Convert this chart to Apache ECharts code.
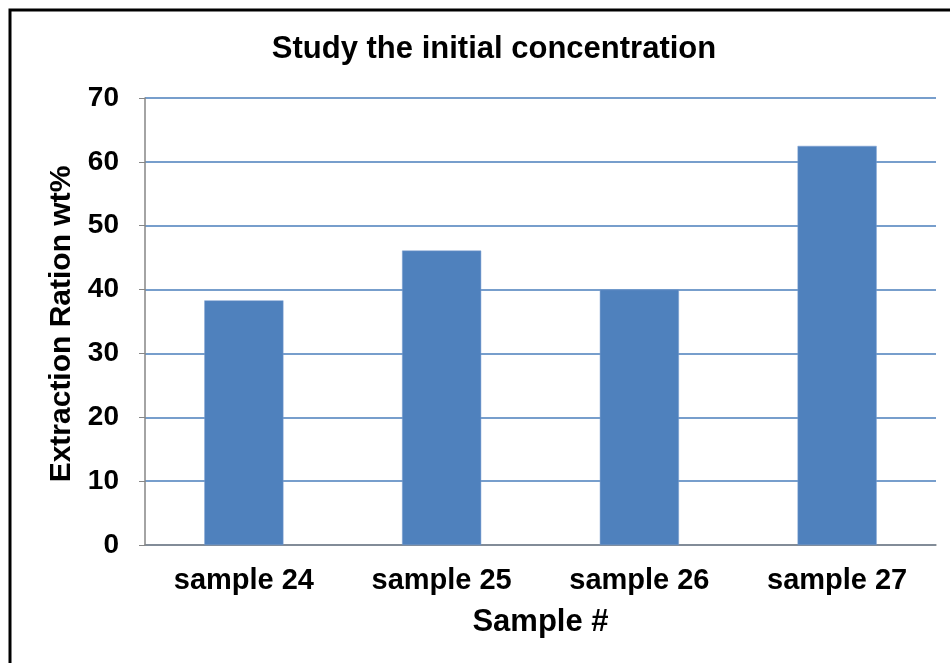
<!DOCTYPE html>
<html>
<head>
<meta charset="utf-8">
<script src="https://cdn.jsdelivr.net/npm/echarts@6/dist/echarts.min.js"></script>
<style>
  html, body { margin: 0; padding: 0; background: #fff; }
  #chart { width: 950px; height: 663px; }
</style>
</head>
<body>
<div id="chart"></div>
<script>
// Extraction ratio per sample
const categories = ['sample 24', 'sample 25', 'sample 26', 'sample 27'];
const extraction = [38.3, 46.1, 40.0, 62.5];
const yTicks = [0, 10, 20, 30, 40, 50, 60, 70];

const FONT = 'Liberation Sans, Arial, sans-serif';
const chart = echarts.init(document.getElementById('chart'), null, { renderer: 'canvas' });

chart.setOption({
  backgroundColor: '#ffffff',
  animation: false,
  title: {
    text: 'Study the initial concentration',
    left: 489,
    textAlign: 'center',
    top: 29,
    textStyle: { fontFamily: FONT, fontSize: 31, fontWeight: 'bold', color: '#000' }
  },
  graphic: [
    {
      type: 'rect',
      shape: { x: 10, y: 10, width: 980, height: 700 },
      style: { fill: 'none', stroke: '#000', lineWidth: 3 },
      silent: true
    },
    {
      type: 'text',
      x: 62,
      y: 324,
      rotation: Math.PI / 2,
      style: {
        text: 'Extraction Ration wt%',
        font: 'bold 30px ' + FONT,
        fill: '#000',
        align: 'center',
        verticalAlign: 'middle'
      }
    }
  ],
  grid: { left: 145, right: 14, top: 98, bottom: 118, containLabel: false },
  xAxis: {
    type: 'category',
    data: categories,
    name: 'Sample #',
    nameLocation: 'middle',
    nameGap: 62,
    nameTextStyle: { fontFamily: FONT, fontSize: 31, fontWeight: 'bold', color: '#000' },
    axisLine: { lineStyle: { color: '#868686', width: 1.5 } },
    axisTick: { show: false },
    axisLabel: { fontFamily: FONT, fontSize: 29, fontWeight: 'bold', color: '#000', margin: 21 },
    splitLine: { show: false }
  },
  yAxis: {
    type: 'value',
    min: yTicks[0],
    max: yTicks[yTicks.length - 1],
    interval: 10,
    axisLine: { show: true, lineStyle: { color: '#868686', width: 1.5 } },
    axisTick: { show: true, inside: false, length: 6, lineStyle: { color: '#868686', width: 1 } },
    axisLabel: { fontFamily: FONT, fontSize: 28, fontWeight: 'bold', color: '#000', margin: 26 },
    splitLine: { show: true, lineStyle: { color: '#4a7ebb', width: 1.5 } }
  },
  series: [{
    type: 'bar',
    data: extraction,
    barWidth: '40%',
    itemStyle: { color: '#4f81bd', borderColor: '#7a9fd0', borderWidth: 0.5 }
  }]
});
</script>
</body>
</html>
